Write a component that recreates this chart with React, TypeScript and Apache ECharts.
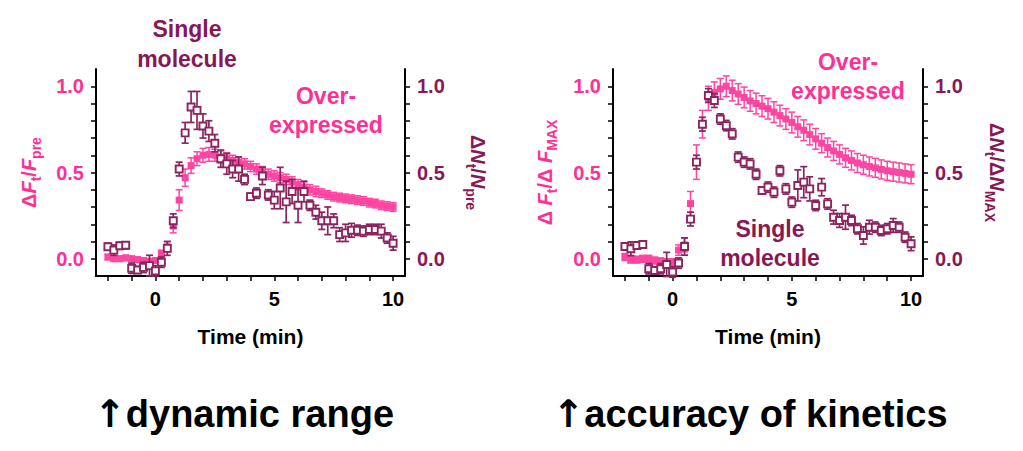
import React, { useEffect, useRef } from "react";
import * as echarts from "echarts";

const PINK = "#FF2F93";
const PINK_DOT = "#FF45A2";
const MAROON = "#881855";
const MAROON_DOT = "#8A2560";
const FONT = "'Liberation Sans', Arial, Helvetica, sans-serif";

// time points (min)
const time = [
  -2, -1.75, -1.5, -1.25, -1, -0.75, -0.5, -0.25, 0, 0.25, 0.5, 0.75, 1, 1.25,
  1.5, 1.75, 2, 2.25, 2.5, 2.75, 3, 3.25, 3.5, 3.75, 4, 4.25, 4.5, 4.75, 5,
  5.25, 5.5, 5.75, 6, 6.25, 6.5, 6.75, 7, 7.25, 7.5, 7.75, 8, 8.25, 8.5, 8.75,
  9, 9.25, 9.5, 9.75, 10,
];

// left panel: over-expressed (ΔF/Fpre)
const leftPink = [
  0.01, 0.0, 0.0, 0.005, 0.0, -0.005, -0.01, -0.015, -0.01, 0.03, 0.07, 0.19,
  0.34, 0.47, 0.54, 0.58, 0.6, 0.605, 0.6, 0.59, 0.58, 0.57, 0.56, 0.55, 0.535,
  0.52, 0.505, 0.49, 0.48, 0.47, 0.46, 0.445, 0.43, 0.415, 0.4, 0.39, 0.38,
  0.37, 0.36, 0.355, 0.35, 0.345, 0.34, 0.335, 0.325, 0.32, 0.31, 0.305, 0.3,
];
const leftPinkErr = [
  0.015, 0.015, 0.015, 0.015, 0.015, 0.015, 0.015, 0.015, 0.015, 0.02, 0.03,
  0.04, 0.06, 0.05, 0.045, 0.04, 0.04, 0.04, 0.035, 0.035, 0.035, 0.03, 0.03,
  0.03, 0.03, 0.03, 0.03, 0.03, 0.03, 0.03, 0.03, 0.03, 0.03, 0.03, 0.03, 0.03,
  0.025, 0.025, 0.025, 0.025, 0.025, 0.025, 0.025, 0.025, 0.025, 0.025, 0.025,
  0.025, 0.025,
];

// left panel: single molecule (ΔN/Npre)
const leftSingle = [
  0.07, 0.05, 0.075, 0.078, -0.055, -0.065, -0.05, -0.04, -0.07, -0.02, 0.06,
  0.22, 0.52, 0.73, 0.88, 0.86, 0.77, 0.74, 0.67, 0.58, 0.55, 0.52, 0.52, 0.46,
  0.36, 0.38, 0.48, 0.37, 0.34, 0.41, 0.33, 0.39, 0.31, 0.39, 0.31, 0.27, 0.22,
  0.22, 0.22, 0.14, 0.15, 0.165, 0.165, 0.16, 0.17, 0.17, 0.16, 0.12, 0.09,
];
const leftSingleErr = [
  0.02, 0.03, 0.02, 0.02, 0.03, 0.02, 0.03, 0.06, 0.03, 0.03, 0.04, 0.04, 0.04,
  0.06, 0.09, 0.11, 0.07, 0.06, 0.05, 0.05, 0.06, 0.05, 0.07, 0.03, 0.02, 0.03,
  0.05, 0.03, 0.05, 0.12, 0.12, 0.07, 0.1, 0.06, 0.03, 0.04, 0.05, 0.08, 0.04,
  0.04, 0.05, 0.04, 0.03, 0.03, 0.03, 0.03, 0.04, 0.03, 0.04,
];

// right panel: over-expressed (ΔF/ΔFmax)
const rightPink = [
  0.01, -0.005, -0.005, 0.0, 0.0, -0.01, -0.015, -0.02, -0.02, 0.05, 0.08,
  0.32, 0.56, 0.78, 0.93, 0.965, 0.985, 1.0, 0.975, 0.955, 0.935, 0.915, 0.9,
  0.885, 0.87, 0.85, 0.83, 0.81, 0.79, 0.765, 0.745, 0.72, 0.695, 0.67, 0.645,
  0.625, 0.605, 0.585, 0.57, 0.555, 0.545, 0.535, 0.527, 0.518, 0.51, 0.505,
  0.5, 0.495, 0.49,
];
const rightPinkErr = [
  0.02, 0.02, 0.02, 0.02, 0.02, 0.02, 0.02, 0.02, 0.02, 0.03, 0.04, 0.07, 0.1,
  0.08, 0.07, 0.06, 0.06, 0.06, 0.06, 0.06, 0.06, 0.06, 0.06, 0.06, 0.06, 0.06,
  0.06, 0.06, 0.06, 0.06, 0.06, 0.06, 0.06, 0.055, 0.055, 0.055, 0.055, 0.055,
  0.055, 0.055, 0.055, 0.055, 0.055, 0.055, 0.055, 0.055, 0.055, 0.055, 0.055,
];

// right panel: single molecule (ΔN/ΔNmax)
const rightSingle = [
  0.071, 0.058, 0.077, 0.083, -0.058, -0.068, -0.058, -0.033, -0.077, -0.025,
  0.071, 0.23, 0.56, 0.78, 0.946, 0.917, 0.81, 0.772, 0.724, 0.589, 0.56, 0.55,
  0.49, 0.396, 0.415, 0.386, 0.51, 0.405, 0.328, 0.425, 0.444, 0.405, 0.309,
  0.415, 0.318, 0.241, 0.222, 0.241, 0.222, 0.174, 0.135, 0.183, 0.183, 0.164,
  0.174, 0.193, 0.183, 0.125, 0.087,
];
const rightSingleErr = [
  0.02, 0.04, 0.02, 0.02, 0.03, 0.02, 0.03, 0.07, 0.03, 0.03, 0.05, 0.04, 0.04,
  0.04, 0.04, 0.04, 0.03, 0.03, 0.03, 0.03, 0.03, 0.03, 0.03, 0.02, 0.03, 0.03,
  0.03, 0.03, 0.03, 0.09, 0.09, 0.07, 0.03, 0.05, 0.03, 0.04, 0.04, 0.07, 0.03,
  0.03, 0.05, 0.04, 0.03, 0.03, 0.03, 0.04, 0.03, 0.03, 0.04,
];

const xTicks = [-2, -1, 0, 1, 2, 3, 4, 5, 6, 7, 8, 9, 10];
const xLabels = [0, 5, 10];
const yTicks = [0, 0.1, 0.2, 0.3, 0.4, 0.5, 0.6, 0.7, 0.8, 0.9, 1.0];
const yLabels = [0, 0.5, 1.0];

const nameRich = (color: string) => ({
  d: { color, fontSize: 20, fontWeight: "bold", fontFamily: FONT, lineHeight: 28 },
  i: { color, fontSize: 20, fontWeight: "bold", fontStyle: "italic", fontFamily: FONT, lineHeight: 28 },
  s: { color, fontSize: 14, fontWeight: "bold", fontFamily: FONT, lineHeight: 14, verticalAlign: "bottom" },
});

const errorBars = (color: string, lineWidth: number) => (_params: any, api: any) => {
  const x = api.value(0);
  const y = api.value(1);
  const e = api.value(2);
  const hi = api.coord([x, y + e]);
  const lo = api.coord([x, y - e]);
  const w = 3.5;
  const style = { stroke: color, lineWidth };
  return {
    type: "group",
    children: [
      { type: "line", shape: { x1: hi[0], y1: hi[1], x2: lo[0], y2: lo[1] }, style },
      { type: "line", shape: { x1: hi[0] - w, y1: hi[1], x2: hi[0] + w, y2: hi[1] }, style },
      { type: "line", shape: { x1: lo[0] - w, y1: lo[1], x2: lo[0] + w, y2: lo[1] }, style },
    ],
  };
};

const xAxisFor = (gridIndex: number) => ({
  gridIndex,
  type: "value",
  min: -2.5,
  max: 10.5,
  splitLine: { show: false },
  axisLine: { show: true, onZero: false, lineStyle: { color: "#000", width: 2 } },
  axisTick: { show: true, customValues: xTicks, length: 5, lineStyle: { color: "#000", width: 1.5 } },
  axisLabel: { customValues: xLabels, color: "#000", fontSize: 20, fontWeight: "bold", fontFamily: FONT, margin: 13 },
  name: "Time (min)",
  nameLocation: "middle",
  nameGap: 50,
  nameTextStyle: { color: "#000", fontSize: 21, fontWeight: "bold", fontFamily: FONT },
});

const yAxisFor = (gridIndex: number, position: string, color: string, name: string, nameGap: number) => ({
  gridIndex,
  type: "value",
  position,
  min: -0.1,
  max: 1.1,
  splitLine: { show: false },
  axisLine: { show: true, onZero: false, lineStyle: { color: "#000", width: 2 } },
  axisTick: { show: true, customValues: yTicks, length: 5, lineStyle: { color: "#000", width: 1.5 } },
  axisLabel: {
    customValues: yLabels,
    formatter: (v: number) => v.toFixed(1),
    color,
    fontSize: 20,
    fontWeight: "bold",
    fontFamily: FONT,
    margin: 12,
  },
  name,
  nameLocation: "middle",
  nameRotate: position === "left" ? 90 : -90,
  nameGap,
  nameTextStyle: { color, rich: nameRich(color) },
});

const panelSeries = (
  gridIndex: number,
  pink: number[],
  pinkErr: number[],
  single: number[],
  singleErr: number[]
) => {
  const leftY = gridIndex * 2;
  const rightY = gridIndex * 2 + 1;
  return [
    {
      type: "custom",
      xAxisIndex: gridIndex,
      yAxisIndex: leftY,
      renderItem: errorBars(PINK_DOT, 1.5),
      encode: { x: 0, y: 1 },
      data: time.map((t, i) => [t, pink[i], pinkErr[i]]),
      silent: true,
      z: 1,
    },
    {
      type: "scatter",
      xAxisIndex: gridIndex,
      yAxisIndex: leftY,
      symbol: "rect",
      symbolSize: 7,
      itemStyle: { color: PINK_DOT, opacity: 1 },
      data: time.map((t, i) => [t, pink[i]]),
      z: 2,
    },
    {
      type: "custom",
      xAxisIndex: gridIndex,
      yAxisIndex: rightY,
      renderItem: errorBars(MAROON_DOT, 1.7),
      encode: { x: 0, y: 1 },
      data: time.map((t, i) => [t, single[i], singleErr[i]]),
      silent: true,
      z: 3,
    },
    {
      type: "scatter",
      xAxisIndex: gridIndex,
      yAxisIndex: rightY,
      symbol: "rect",
      symbolSize: 7,
      itemStyle: { color: "#fff", borderColor: MAROON_DOT, borderWidth: 1.9, opacity: 1 },
      data: time.map((t, i) => [t, single[i]]),
      z: 4,
    },
  ];
};

const label = (text: string, x: number, y: number, color: string, fontSize: number, lineHeight: number) => ({
  type: "text",
  x,
  y,
  style: {
    text,
    fill: color,
    fontSize,
    fontWeight: "bold",
    fontFamily: FONT,
    lineHeight,
    align: "center",
    verticalAlign: "middle",
  },
});

const bigTitle = (text: string, x: number, y: number) => ({
  type: "text",
  x,
  y,
  style: {
    text: `{a|↑}{t|${text}}`,
    align: "center",
    verticalAlign: "middle",
    rich: {
      a: { fill: "#000", fontSize: 38, fontWeight: "bold", fontFamily: "'DejaVu Sans', sans-serif", lineHeight: 44 },
      t: { fill: "#000", fontSize: 38, fontWeight: "bold", fontFamily: FONT, lineHeight: 44 },
    },
  },
});

const App: React.FC = () => {
  const chartRef = useRef<HTMLDivElement | null>(null);

  useEffect(() => {
    if (!chartRef.current) return;
    const chart = echarts.init(chartRef.current, undefined, { renderer: "svg" });

    const option: any = {
      animation: false,
      backgroundColor: "#fff",
      grid: [
        { left: 96, top: 69, width: 309, height: 207 },
        { left: 613, top: 69, width: 310, height: 207 },
      ],
      xAxis: [xAxisFor(0), xAxisFor(1)],
      yAxis: [
        yAxisFor(0, "left", PINK, "{d|Δ}{i|F}{s|t}{d|/}{i|F}{s|pre}", 53),
        yAxisFor(0, "right", MAROON, "{d|Δ}{i|N}{s|t}{d|/}{i|N}{s|pre}", 59),
        yAxisFor(1, "left", PINK, "{d|Δ }{i|F}{s|t}{d|/Δ }{i|F}{s|MAX}", 54),
        yAxisFor(1, "right", MAROON, "{d|Δ}{i|N}{s|t}{d|/Δ}{i|N}{s|MAX}", 60),
      ],
      series: [
        ...panelSeries(0, leftPink, leftPinkErr, leftSingle, leftSingleErr),
        ...panelSeries(1, rightPink, rightPinkErr, rightSingle, rightSingleErr),
      ],
      graphic: [
        label("Single\nmolecule", 187, 44, MAROON, 23, 30),
        label("Over-\nexpressed", 326, 110, PINK, 23, 29),
        label("Over-\nexpressed", 848, 76, PINK, 23, 29),
        label("Single\nmolecule", 770, 243, MAROON, 23, 29),
        bigTitle("dynamic range", 244, 414),
        bigTitle("accuracy of kinetics", 750, 414),
      ],
    };

    chart.setOption(option);
    return () => {
      chart.dispose();
    };
  }, []);

  return (
    <div
      ref={chartRef}
      style={{ position: "fixed", left: 0, top: 0, width: "1023px", height: "451px" }}
    />
  );
};

export default App;
